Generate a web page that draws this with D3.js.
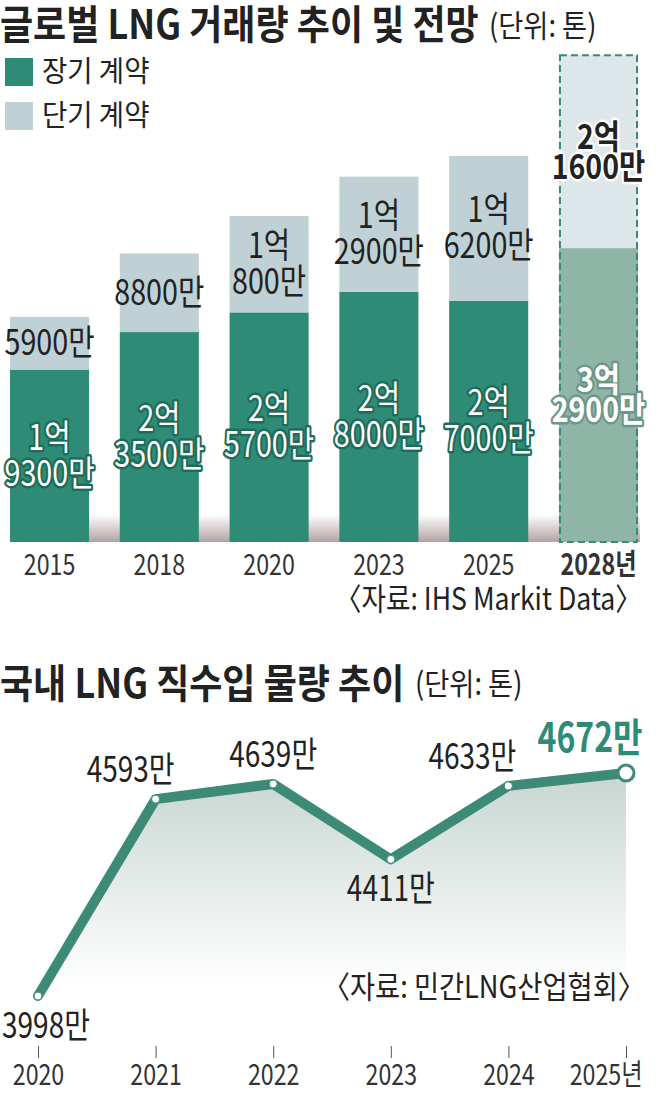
<!DOCTYPE html>
<html>
<head>
<meta charset="utf-8">
<style>
    body{ margin:0; background:#fff; }
    svg{ display:block; }
    text{ font-family:'Noto Sans CJK KR','Noto Sans',sans-serif; }
</style>
</head>
<body>
<div id="chart"></div>
<script src="https://d3js.org/d3.v7.min.js"></script>
<script>
// top chart: global LNG trade (unit: 만 톤)
var years = ["2015", "2018", "2020", "2023", "2025", "2028"];
var longTerm = [19300, 23500, 25700, 28000, 27000, 32900];
var shortTerm = [5900, 8800, 10800, 12900, 16200, 21600];
var forecastYear = "2028";

// bottom chart: domestic direct LNG import (unit: 만 톤)
var lineYears = ["2020", "2021", "2022", "2023", "2024", "2025"];
var lineValues = [3998, 4593, 4639, 4411, 4633, 4672];
var labelSide = ["below", "above", "above", "below", "above", "above"];
var labelShift = [8, -25, 0, 0, -36, -36];

var W = 658, H = 1093;
var SX = 0.8;   // condensed look of the original typeface
var green = "#2e8b76", grey = "#bfd1d4";

var svg = d3.select("#chart").append("svg")
    .attr("width", W)
    .attr("height", H);

var defs = svg.append("defs");

// helper for condensed text (s may be an array of lines)
function txt(g, x, y, s, size, opt) {
    opt = opt || {};
    var lines = Array.isArray(s) ? s : [s];
    var t = g.append("text")
        .attr("transform", "translate(" + x + "," + y + ") scale(" + (opt.sx || SX) + ",1)")
        .attr("font-size", size)
        .attr("font-weight", opt.bold ? 700 : 400)
        .attr("text-anchor", opt.anchor || "start")
        .attr("fill", opt.fill || "#222");
    if (lines.length === 1) {
        t.text(lines[0]);
    } else {
        lines.forEach(function(l, j) {
            t.append("tspan").attr("x", 0).attr("dy", j === 0 ? 0 : opt.gap).text(l);
        });
    }
    if (opt.stroke) {
        t.attr("stroke", opt.stroke)
            .attr("stroke-width", opt.sw || 5)
            .attr("stroke-linejoin", "round")
            .attr("paint-order", "stroke");
    }
    return t;
}

function fmt(v) {
    if (v >= 10000) return [Math.floor(v / 10000) + "억", (v % 10000) + "만"];
    return [v + "만"];
}

/* ---------- top chart ---------- */
var topG = svg.append("g");

txt(topG, 0, 39, "글로벌 LNG 거래량 추이 및 전망", 40, {bold: true, sx: 0.9});
txt(topG, 489, 37, "(단위: 톤)", 31, {sx: 0.88});

// legend
var legend = [["장기 계약", green], ["단기 계약", grey]];
legend.forEach(function(d, i) {
    topG.append("rect")
        .attr("x", 5).attr("y", 58 + i * 44)
        .attr("width", 28).attr("height", 28)
        .attr("fill", d[1]);
    txt(topG, 42, 82 + i * 44, d[0], 29, {sx: 0.95});
});

var x = d3.scaleBand()
    .domain(years)
    .range([10, 638])
    .paddingInner(0.28)
    .paddingOuter(0);

var y = d3.scaleLinear()
    .domain([0, 60000])
    .range([542, 6]);

var rows = years.map(function(yr, i) {
    return {year: yr, long: longTerm[i], short: shortTerm[i]};
});
var stack = d3.stack().keys(["long", "short"])(rows);

// ground shadow
var sg = defs.append("linearGradient").attr("id", "shadow")
    .attr("x1", 0).attr("y1", 0).attr("x2", 0).attr("y2", 1);
sg.append("stop").attr("offset", "0%").attr("stop-color", "#fff");
sg.append("stop").attr("offset", "100%").attr("stop-color", "#b3a3a3");
topG.append("rect")
    .attr("x", x.range()[0]).attr("y", y(0) - 28)
    .attr("width", 630).attr("height", 28)
    .attr("fill", "url(#shadow)");

var colors = {
    long: {normal: green, forecast: "#8fb5a6"},
    short: {normal: grey, forecast: "#dde6e8"}
};

stack.forEach(function(layer) {
    topG.append("g").selectAll("rect")
        .data(layer)
        .join("rect")
        .attr("x", function(d) { return x(d.data.year); })
        .attr("y", function(d) { return y(d[1]); })
        .attr("width", x.bandwidth())
        .attr("height", function(d) { return y(d[0]) - y(d[1]); })
        .attr("fill", function(d) {
            return colors[layer.key][d.data.year === forecastYear ? "forecast" : "normal"];
        });
});

// dashed outline for forecast
var fc = rows.filter(function(d) { return d.year === forecastYear; })[0];
topG.append("rect")
    .attr("x", x(fc.year) + 1)
    .attr("y", y(fc.long + fc.short))
    .attr("width", x.bandwidth() - 2)
    .attr("height", y(0) - y(fc.long + fc.short))
    .attr("fill", "none")
    .attr("stroke", "#3a8a76")
    .attr("stroke-width", 2)
    .attr("stroke-dasharray", "7,4");

// segment labels
stack.forEach(function(layer) {
    layer.forEach(function(d) {
        var v = d[1] - d[0];
        var lines = fmt(v);
        var cx = x(d.data.year) + x.bandwidth() / 2;
        var cy = (y(d[0]) + y(d[1])) / 2;
        var isF = d.data.year === forecastYear;
        var size = isF ? 34 : 35;
        var gap = isF ? 30 : 36;
        var opt = {anchor: "middle", bold: isF, sx: isF ? 0.84 : 0.82, gap: gap, sw: 5};
        if (layer.key === "long") {
            opt.fill = "#fff";
            opt.stroke = isF ? "#6e9688" : "#1e6b59";
        } else {
            opt.fill = "#222";
            if (isF) opt.stroke = "#fff";
        }
        var first = -(lines.length - 1) / 2 * gap;
        txt(topG, cx, cy + first + 12, lines, size, opt);
    });
});

// x axis
var xa = topG.append("g")
    .attr("transform", "translate(0," + (y(0) + 8) + ")")
    .call(d3.axisBottom(x).tickSize(0).tickPadding(4)
        .tickFormat(function(d) { return d === forecastYear ? d + "년" : d; }));
xa.select(".domain").remove();
xa.selectAll("text")
    .attr("font-size", 29)
    .attr("fill", "#333")
    .attr("font-weight", function(d) { return d === forecastYear ? 700 : 400; })
    .attr("transform", "scale(" + SX + ",1)")
    .style("font-family", "'Noto Sans CJK KR',sans-serif");

txt(topG, 642, 610, "〈자료: IHS Markit Data〉", 31, {anchor: "end", sx: 0.86});

/* ---------- bottom chart ---------- */
var botG = svg.append("g");

txt(botG, 0, 698, "국내 LNG 직수입 물량 추이", 40, {bold: true, sx: 0.9});
txt(botG, 415, 695, "(단위: 톤)", 31, {sx: 0.88});

var lx = d3.scalePoint()
    .domain(lineYears)
    .range([38, 626]);

var ly = d3.scaleLinear()
    .domain([3998, 4672])
    .range([996, 773]);

var pts = lineYears.map(function(yr, i) { return {year: yr, value: lineValues[i]}; });

var ag = defs.append("linearGradient").attr("id", "areaFill")
    .attr("gradientUnits", "userSpaceOnUse")
    .attr("x1", 0).attr("y1", 775).attr("x2", 0).attr("y2", 985);
ag.append("stop").attr("offset", "0%").attr("stop-color", "#c8d6d1");
ag.append("stop").attr("offset", "100%").attr("stop-color", "#fff");

botG.append("path")
    .datum(pts)
    .attr("fill", "url(#areaFill)")
    .attr("d", d3.area()
        .x(function(d) { return lx(d.year); })
        .y0(1000)
        .y1(function(d) { return ly(d.value); }));

txt(botG, 645, 998, "〈자료: 민간LNG산업협회〉", 31, {anchor: "end", sx: 0.88});

botG.append("path")
    .datum(pts)
    .attr("fill", "none")
    .attr("stroke", "#3d8b77")
    .attr("stroke-width", 10)
    .attr("stroke-linecap", "round")
    .attr("stroke-linejoin", "round")
    .attr("d", d3.line()
        .x(function(d) { return lx(d.year); })
        .y(function(d) { return ly(d.value); }));

botG.selectAll("circle")
    .data(pts)
    .join("circle")
    .attr("cx", function(d) { return lx(d.year); })
    .attr("cy", function(d) { return ly(d.value); })
    .attr("r", function(d, i) { return i === pts.length - 1 ? 8 : 4; })
    .attr("fill", "#fff")
    .attr("stroke", "#3d8b77")
    .attr("stroke-width", function(d, i) { return i === pts.length - 1 ? 3 : 1; });

pts.forEach(function(d, i) {
    var last = i === pts.length - 1;
    var yy = labelSide[i] === "above" ? ly(d.value) - (last ? 21 : 17) : ly(d.value) + 42;
    txt(botG, lx(d.year) + labelShift[i], yy, d.value + "만", last ? 40 : 35,
        {anchor: "middle", bold: last, fill: last ? "#2e8b76" : "#222", sx: 0.8});
});

var ba = botG.append("g")
    .attr("transform", "translate(0,1046)")
    .call(d3.axisBottom(lx).tickSize(12).tickPadding(6)
        .tickFormat(function(d, i) { return i === lineYears.length - 1 ? d + "년" : d; }));
ba.select(".domain").remove();
ba.selectAll("line").attr("stroke", "#555");
ba.selectAll("text")
    .attr("font-size", 29)
    .attr("fill", "#333")
    .attr("transform", "scale(" + SX + ",1)")
    .style("font-family", "'Noto Sans CJK KR',sans-serif");
// last label is pulled in so it stays inside the picture
ba.selectAll("text").filter(function(d, i) { return i === lineYears.length - 1; })
    .attr("text-anchor", "end")
    .attr("x", 16 / SX);
</script>
</body>
</html>
